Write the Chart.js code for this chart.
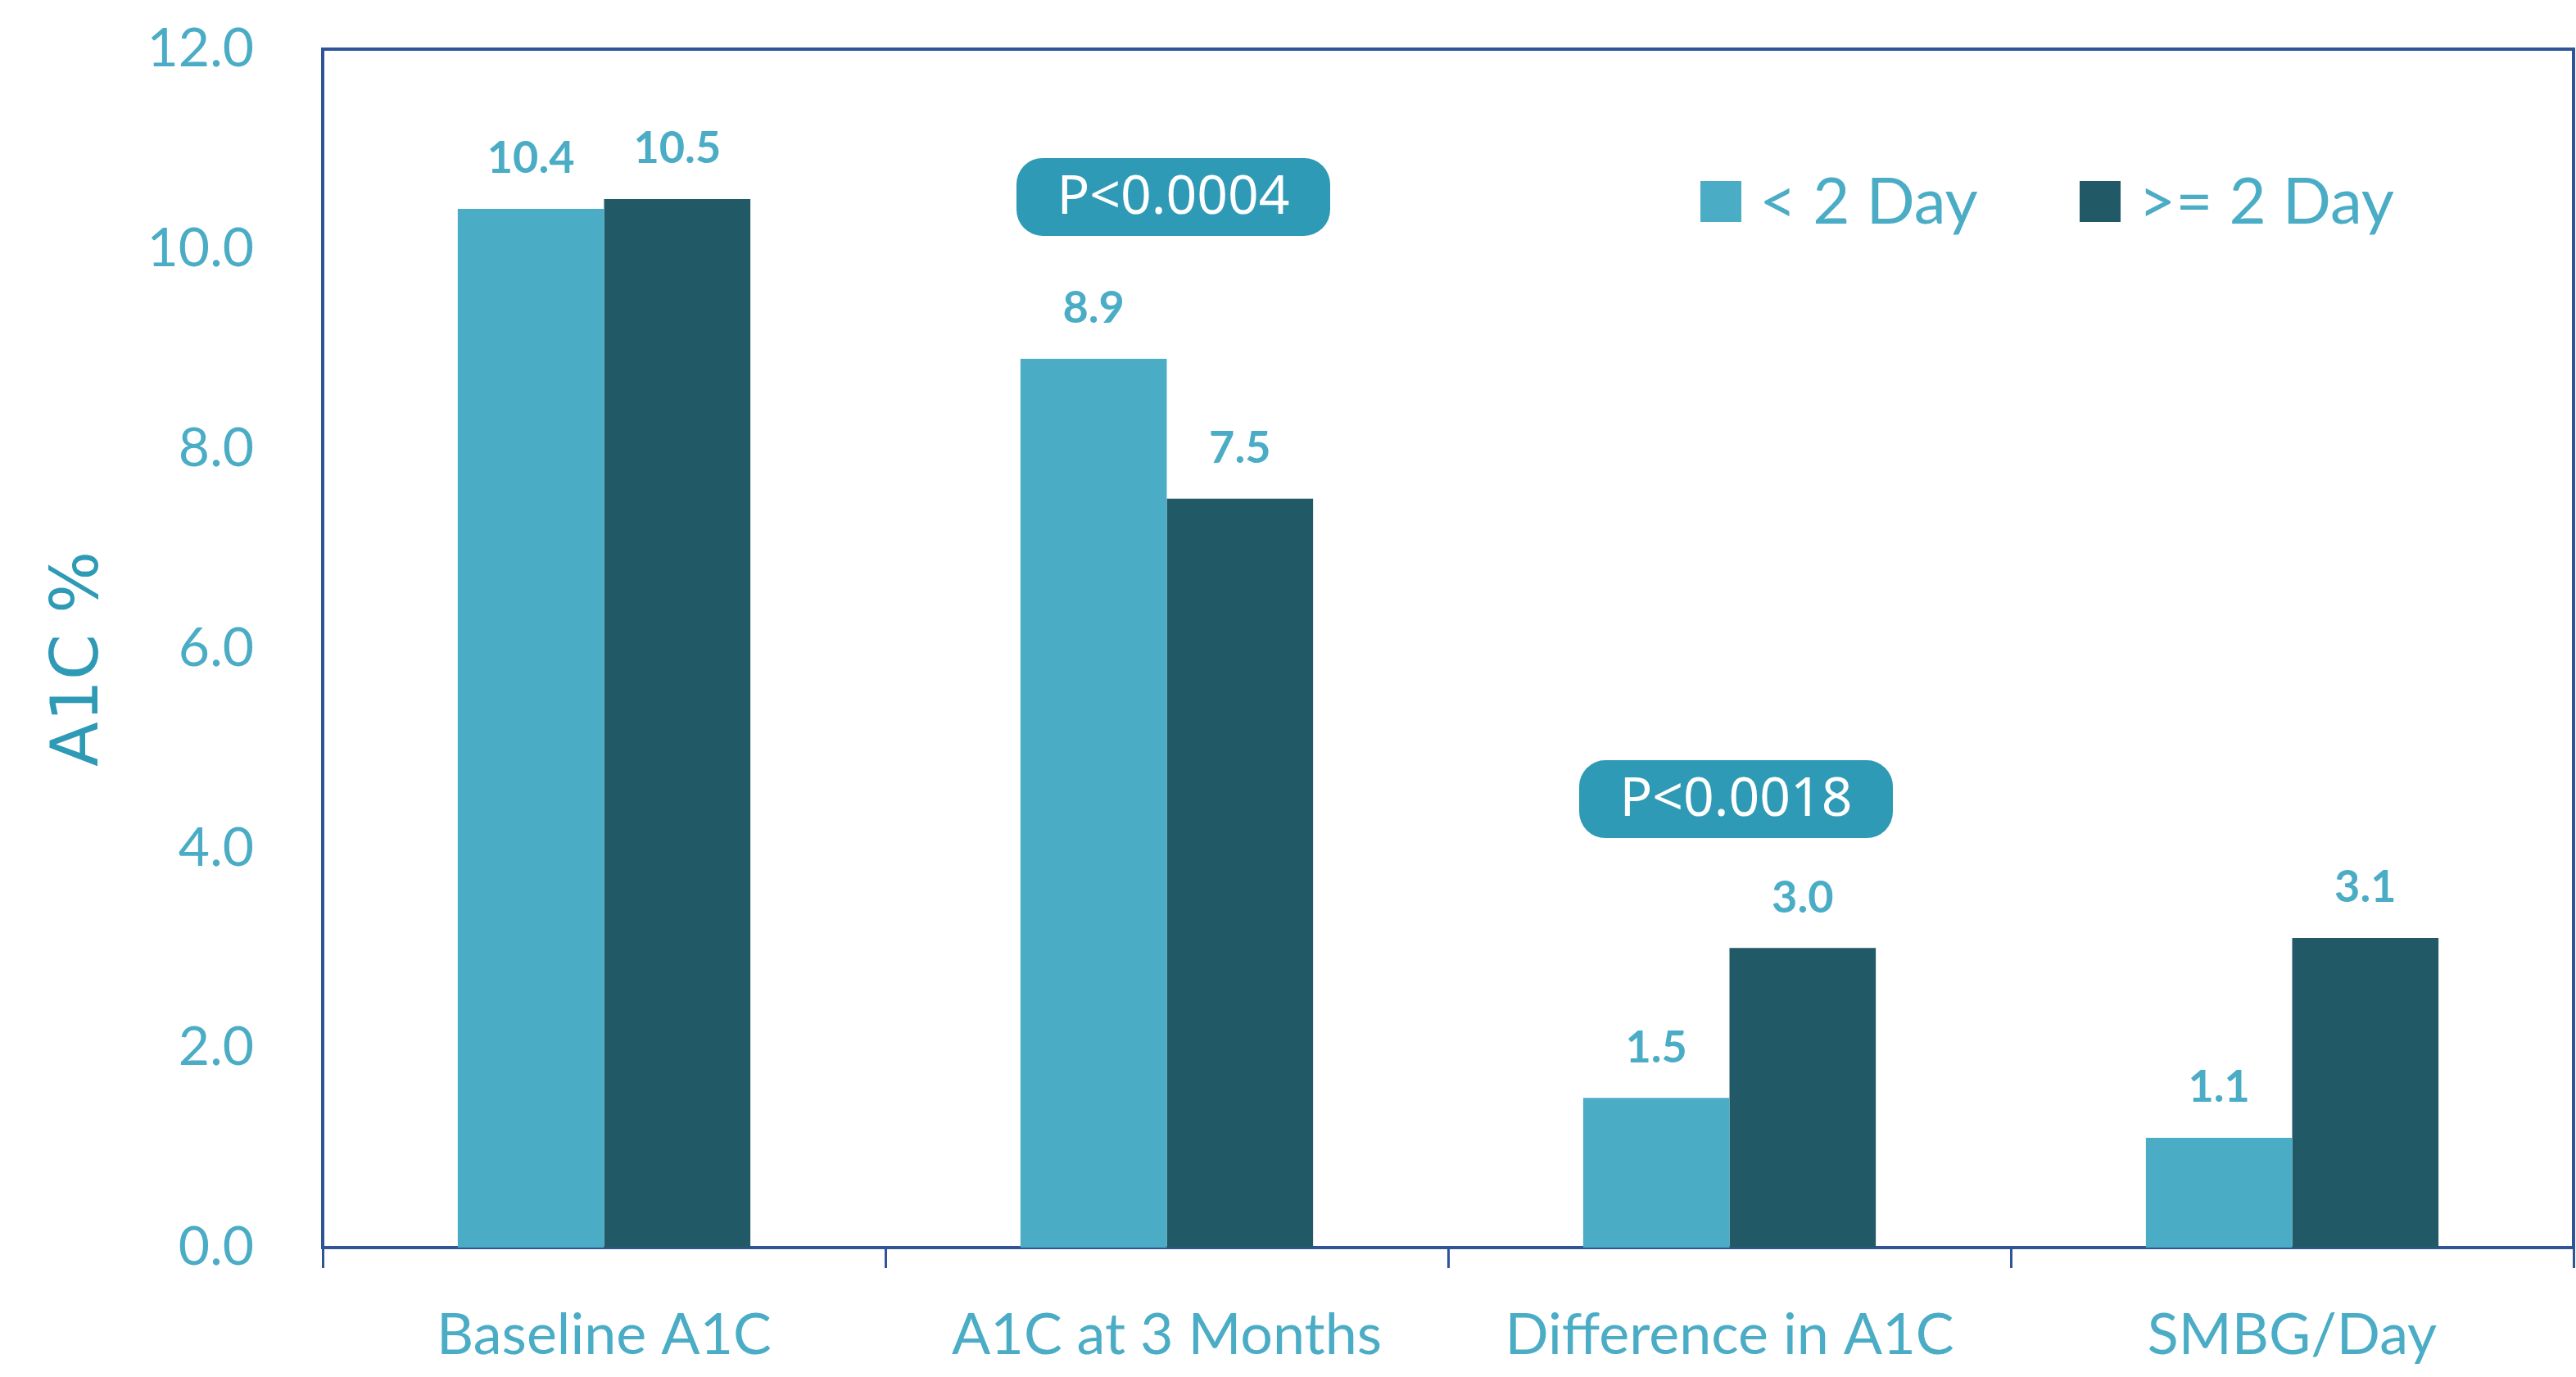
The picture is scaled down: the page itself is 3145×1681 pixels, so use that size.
<!DOCTYPE html>
<html>
<head>
<meta charset="utf-8">
<script src="https://cdn.jsdelivr.net/npm/chart.js@4/dist/chart.umd.min.js"></script>
<style>
  html, body { margin: 0; padding: 0; background: #fff; }
  canvas { display: block; }
</style>
</head>
<body>
<canvas id="chart" width="3145" height="1681"></canvas>
<script>
// chart data
const categories = ['Baseline A1C', 'A1C at 3 Months', 'Difference in A1C', 'SMBG/Day'];
const seriesNames = ['< 2 Day', '>= 2 Day'];
const lessThan2 = [10.4, 8.9, 1.5, 1.1];
const atLeast2 = [10.5, 7.5, 3.0, 3.1];
const yTicks = [0, 2, 4, 6, 8, 10, 12];
// p-value callouts per category, and the value level they sit at
const pLabels = ['', 'P<0.0004', 'P<0.0018', ''];
const pLevels = [null, 10.52, 4.49, null];

const lightColor = '#4BACC6';
const darkColor = '#215967';
const axisColor = '#2F5597';
const textColor = '#4BACC6';

// top and right edges of the frame
const framePlugin = {
    id: 'frame',
    afterDraw(chart) {
        const { ctx, chartArea } = chart;
        ctx.save();
        ctx.strokeStyle = axisColor;
        ctx.lineWidth = 4;
        ctx.beginPath();
        ctx.moveTo(chartArea.left, chartArea.top);
        ctx.lineTo(chartArea.right, chartArea.top);
        ctx.lineTo(chartArea.right, chartArea.bottom);
        ctx.stroke();
        ctx.restore();
    }
};

// bold value labels above each bar
const valueLabels = {
    id: 'valueLabels',
    afterDatasetsDraw(chart) {
        const ctx = chart.ctx;
        ctx.save();
        ctx.font = 'bold 54px Lato';
        ctx.fillStyle = textColor;
        ctx.textAlign = 'center';
        ctx.textBaseline = 'bottom';
        chart.data.datasets.forEach((ds, i) => {
            chart.getDatasetMeta(i).data.forEach((bar, j) => {
                ctx.fillText(ds.data[j].toFixed(1), bar.x, bar.y - 34);
            });
        });
        ctx.restore();
    }
};

// rounded p-value boxes
const pBoxes = {
    id: 'pBoxes',
    afterDatasetsDraw(chart) {
        const ctx = chart.ctx;
        const x = chart.scales.x, y = chart.scales.y;
        ctx.save();
        pLabels.forEach((label, i) => {
            if (!label) return;
            const cx = x.getPixelForValue(i) + 8;
            const cy = y.getPixelForValue(pLevels[i]);
            const w = 383, h = 95;
            ctx.fillStyle = '#2E9AB5';
            ctx.beginPath();
            ctx.roundRect(cx - w / 2, cy - h / 2, w, h, 32);
            ctx.fill();
            ctx.fillStyle = '#ffffff';
            ctx.font = '66px "Noto Sans"';
            ctx.textAlign = 'center';
            ctx.textBaseline = 'middle';
            ctx.fillText(label, cx, cy + 2);
        });
        ctx.restore();
    }
};

// legend inside the plot, top right
const insideLegend = {
    id: 'insideLegend',
    afterDraw(chart) {
        const ctx = chart.ctx;
        const starts = [2076, 2539];
        ctx.save();
        ctx.font = '78px Lato';
        ctx.textBaseline = 'alphabetic';
        ctx.textAlign = 'left';
        chart.data.datasets.forEach((ds, i) => {
            ctx.fillStyle = ds.backgroundColor;
            ctx.fillRect(starts[i], 221, 50, 50);
            ctx.fillStyle = textColor;
            ctx.fillText(ds.label, starts[i] + 72, 273);
        });
        ctx.restore();
    }
};

new Chart(document.getElementById('chart'), {
    type: 'bar',
    data: {
        labels: categories,
        datasets: [
            { label: seriesNames[0], data: lessThan2, backgroundColor: lightColor },
            { label: seriesNames[1], data: atLeast2, backgroundColor: darkColor }
        ]
    },
    options: {
        responsive: false,
        devicePixelRatio: 1,
        animation: false,
        layout: { padding: { top: 60, right: 3, left: 0, bottom: 0 } },
        datasets: { bar: { categoryPercentage: 0.52, barPercentage: 1.0 } },
        plugins: {
            legend: { display: false },
            tooltip: { enabled: false }
        },
        scales: {
            x: {
                afterFit(scale) {
                    scale.height = 158;
                    scale.paddingLeft = 0;
                    scale.paddingRight = 0;
                },
                grid: {
                    offset: true,
                    drawOnChartArea: false,
                    drawTicks: true,
                    tickLength: 25,
                    color: axisColor,
                    lineWidth: 3
                },
                border: { display: true, color: axisColor, width: 4 },
                ticks: {
                    color: textColor,
                    font: { family: 'Lato', size: 70 },
                    padding: 40
                }
            },
            y: {
                min: 0,
                max: 12,
                afterFit(scale) {
                    scale.width = 394;
                    scale.paddingTop = 0;
                    scale.paddingBottom = 0;
                },
                afterBuildTicks(scale) {
                    scale.ticks = yTicks.map(v => ({ value: v }));
                },
                grid: { display: false },
                border: { display: true, color: axisColor, width: 4 },
                ticks: {
                    color: textColor,
                    font: { family: 'Lato', size: 66 },
                    padding: 76,
                    callback: v => v.toFixed(1)
                },
                title: {
                    display: true,
                    text: 'A1C % ',
                    color: '#2E9AB5',
                    font: { family: 'DejaVu Sans', size: 80 },
                    padding: { top: 50, bottom: 0 }
                }
            }
        }
    },
    plugins: [framePlugin, valueLabels, pBoxes, insideLegend]
});
</script>
</body>
</html>
